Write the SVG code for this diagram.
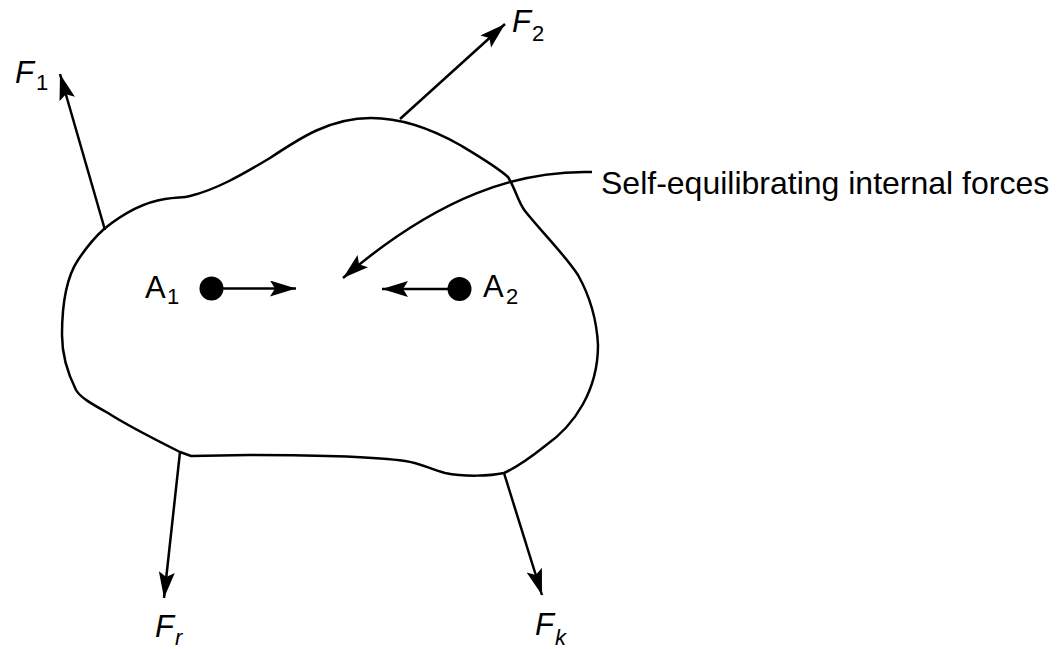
<svg xmlns="http://www.w3.org/2000/svg" width="1060" height="649" viewBox="0 0 1060 649">
<style>
.ln{fill:none;stroke:#000;stroke-width:2.5}
.ar{fill:none;stroke:#000;stroke-width:2.5;marker-end:url(#ah)}
.t{font-family:"Liberation Sans",Arial,sans-serif;fill:#000}
.fi{font-style:italic;font-size:31px}
.sub{font-size:22px}
.a{font-size:31px}
</style>
<defs>
<marker id="ah" markerWidth="28" markerHeight="18" refX="26" refY="8" orient="auto" markerUnits="userSpaceOnUse">
<path d="M0,0 L26,8 L0,16 L5,8 z" fill="#000"/>
</marker>
</defs>
<rect width="1060" height="649" fill="#fff"/>
<g id="body">
<path class="ln" d="M104,229 C125,212 145,202 165,199 C178,197 183,198 190,196 C215,190 240,176 270,158 C300,138 330,118 371,118 C400,118 430,128 460,145 C480,157 497,167 508,177 C516,190 518,202 525,211 C540,230 565,255 578,275 C592,300 597,325 598,345 C598,390 575,425 545,446 C530,458 515,468 504,473 C490,476 465,477 445,473 C430,469 420,463 405,461 C370,456 300,455 249,455 L191,456 L180,452 C160,442 125,424 108,413 C90,403 80,397 76,390 C66,370 62,350 62,335 C62,300 68,275 78,260 C86,248 94,238 104,229 Z"/>
</g>
<g id="connectors">
<line class="ar" x1="105" y1="230" x2="60" y2="74"/>
<line class="ar" x1="400" y1="119" x2="505" y2="24"/>
<line class="ar" x1="180" y1="452" x2="164" y2="598"/>
<line class="ar" x1="504" y1="473" x2="542" y2="595"/>
<line class="ar" x1="212" y1="288.5" x2="296" y2="288.5"/>
<line class="ar" x1="459" y1="289" x2="382" y2="289"/>
<path class="ar" d="M592,172 C520,170 440,195 343,278"/>
</g>
<g id="A1">
<circle cx="211.5" cy="288.5" r="12" fill="#000"/>
<text class="t a" x="145" y="298">A<tspan class="sub" x="167" y="304">1</tspan></text>
</g>
<g id="A2">
<circle cx="459.5" cy="289" r="12" fill="#000"/>
<text class="t a" x="483" y="297">A<tspan class="sub" x="506" y="304">2</tspan></text>
</g>
<g id="F1"><text class="t fi" x="15" y="83">F<tspan class="sub" font-style="normal" x="36" y="90">1</tspan></text></g>
<g id="F2"><text class="t fi" x="512" y="32">F<tspan class="sub" font-style="normal" x="532" y="41">2</tspan></text></g>
<g id="Fr"><text class="t fi" x="155" y="637">F<tspan class="sub" x="175" y="645">r</tspan></text></g>
<g id="Fk"><text class="t fi" x="535" y="635">F<tspan class="sub" x="555" y="645">k</tspan></text></g>
<g id="label"><text class="t" x="601" y="194" font-size="32">Self-equilibrating internal forces</text></g>
</svg>
